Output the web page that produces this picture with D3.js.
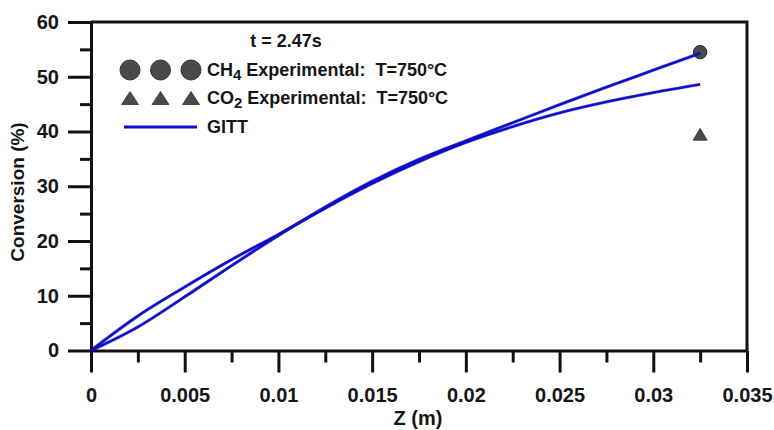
<!DOCTYPE html>
<html>
<head>
<meta charset="utf-8">
<script src="https://cdn.jsdelivr.net/npm/d3@7"></script>
<style>
  html, body { margin: 0; padding: 0; background: #fff; }
  svg { display: block; font-family: "Liberation Sans", Arial, sans-serif; }
</style>
</head>
<body>
<svg id="chart" width="774" height="430"></svg>
<script>
// ---- data ----
const zValues = [0, 0.0025, 0.005, 0.0075, 0.01, 0.0125, 0.015, 0.0175, 0.02, 0.0225, 0.025, 0.0275, 0.03, 0.0325];
const gittCH4 = [0, 4.3, 9.8, 15.5, 21.0, 26.2, 30.9, 34.9, 38.3, 41.6, 44.9, 48.1, 51.2, 54.3];
const gittCO2 = [0, 6.3, 11.6, 16.6, 21.2, 26.0, 30.5, 34.5, 38.0, 40.9, 43.4, 45.4, 47.1, 48.6];
const expCH4 = [{ z: 0.0325, v: 54.5 }];
const expCO2 = [{ z: 0.0325, v: 39.5 }];
const xTicks = [0, 0.005, 0.01, 0.015, 0.02, 0.025, 0.03, 0.035];
const xTickLabels = ["0", "0.005", "0.01", "0.015", "0.02", "0.025", "0.03", "0.035"];
const xMinorTicks = [0.0025, 0.0075, 0.0125, 0.0175, 0.0225, 0.0275, 0.0325];
const yTicks = [0, 10, 20, 30, 40, 50, 60];
const yTickLabels = ["0", "10", "20", "30", "40", "50", "60"];
const yMinorTicks = [5, 15, 25, 35, 45, 55];
const legendTitle = "t = 2.47s";
const legendCH4 = ["CH", "4", " Experimental:  T=750°C"];
const legendCO2 = ["CO", "2", " Experimental:  T=750°C"];
const legendGITT = "GITT";
const xTitle = "Z (m)";
const yTitle = "Conversion (%)";

// ---- layout ----
const svg = d3.select("#chart");
const L = 91, R = 747, T = 22, B = 350.5;
const x = d3.scaleLinear().domain([0, 0.035]).range([L, R]);
const y = d3.scaleLinear().domain([0, 60]).range([B, T]);
const ink = "#111";
const textInk = "#151515";
const lineBlue = "#0c0cd4";
const fontFam = "'Liberation Sans', Arial, sans-serif";

// minor ticks
svg.append("g").attr("transform", `translate(0,${B})`)
  .call(d3.axisBottom(x).tickValues(xMinorTicks).tickSize(12).tickSizeOuter(0).tickFormat(""))
  .call(g => g.select(".domain").remove())
  .call(g => g.selectAll("line").attr("stroke", ink).attr("stroke-width", 3));
svg.append("g").attr("transform", `translate(${L},0)`)
  .call(d3.axisLeft(y).tickValues(yMinorTicks).tickSize(11).tickSizeOuter(0).tickFormat(""))
  .call(g => g.select(".domain").remove())
  .call(g => g.selectAll("line").attr("stroke", ink).attr("stroke-width", 3));

// major x axis
svg.append("g").attr("transform", `translate(0,${B})`)
  .call(d3.axisBottom(x).tickValues(xTicks).tickSize(22).tickSizeOuter(0).tickPadding(15)
    .tickFormat((d, i) => xTickLabels[i]))
  .call(g => g.select(".domain").attr("stroke", ink).attr("stroke-width", 3))
  .call(g => g.selectAll("line").attr("stroke", ink).attr("stroke-width", 3))
  .call(g => g.selectAll("text").attr("fill", textInk).attr("font-size", 20).attr("font-weight", "bold")
    .attr("font-family", fontFam));

// major y axis
svg.append("g").attr("transform", `translate(${L},0)`)
  .call(d3.axisLeft(y).tickValues(yTicks).tickSize(23).tickSizeOuter(0).tickPadding(9)
    .tickFormat((d, i) => yTickLabels[i]))
  .call(g => g.select(".domain").attr("stroke", ink).attr("stroke-width", 3))
  .call(g => g.selectAll("line").attr("stroke", ink).attr("stroke-width", 3))
  .call(g => g.selectAll("text").attr("fill", textInk).attr("font-size", 20).attr("font-weight", "bold")
    .attr("font-family", fontFam));

// top and right frame
svg.append("path")
  .attr("d", `M${L},${T}H${R}V${B}`)
  .attr("fill", "none").attr("stroke", ink).attr("stroke-width", 3);

// axis titles
svg.append("text").attr("x", 418).attr("y", 425).attr("text-anchor", "middle")
  .attr("font-size", 20).attr("font-weight", "bold").attr("fill", textInk).text(xTitle);
svg.append("text").attr("transform", "translate(24,192) rotate(-90)").attr("text-anchor", "middle")
  .attr("font-size", 19).attr("font-weight", "bold").attr("fill", textInk).text(yTitle);

// experimental points (drawn under the curves, as in the reference)
const triPath = (cx, cy, w, h) => `M${cx - w / 2},${cy + h / 2}L${cx},${cy - h / 2}L${cx + w / 2},${cy + h / 2}Z`;
svg.selectAll("circle.exp").data(expCH4).join("circle").attr("class", "exp")
  .attr("cx", d => x(d.z)).attr("cy", d => y(d.v)).attr("r", 6.7)
  .attr("fill", "#4a4a4a").attr("stroke", "#222").attr("stroke-width", 1);
svg.selectAll("path.expco2").data(expCO2).join("path").attr("class", "expco2")
  .attr("d", d => triPath(x(d.z), y(d.v), 14, 12))
  .attr("fill", "#4a4a4a").attr("stroke", "#333").attr("stroke-width", 0.8);

// GITT curves
const line = d3.line().x((d, i) => x(zValues[i])).y(d => y(d)).curve(d3.curveMonotoneX);
[gittCO2, gittCH4].forEach(series => {
  svg.append("path").datum(series).attr("d", line)
    .attr("fill", "none").attr("stroke", "#0a0a50").attr("stroke-width", 3.4).attr("stroke-opacity", 0.45);
  svg.append("path").datum(series).attr("d", line)
    .attr("fill", "none").attr("stroke", lineBlue).attr("stroke-width", 2.4);
});

// legend
svg.append("text").attr("x", 286).attr("y", 47).attr("text-anchor", "middle")
  .attr("font-size", 18).attr("font-weight", "bold").attr("fill", textInk).text(legendTitle);

const legX = [130, 160.5, 191];
legX.forEach(cx => {
  svg.append("circle").attr("cx", cx).attr("cy", 70).attr("r", 10)
    .attr("fill", "#4a4a4a").attr("stroke", "#333").attr("stroke-width", 1);
  svg.append("path").attr("d", triPath(cx, 98, 17, 13))
    .attr("fill", "#4a4a4a").attr("stroke", "#333").attr("stroke-width", 0.8);
});
function legendText(parts, yy) {
  const t = svg.append("text").attr("x", 207).attr("y", yy)
    .attr("font-size", 18).attr("font-weight", "bold").attr("fill", textInk).attr("xml:space", "preserve");
  t.append("tspan").text(parts[0]);
  t.append("tspan").attr("font-size", 15).attr("dy", 4).text(parts[1]);
  t.append("tspan").attr("dy", -4).text(parts[2]);
}
legendText(legendCH4, 76);
legendText(legendCO2, 104);
svg.append("line").attr("x1", 124).attr("x2", 197).attr("y1", 127).attr("y2", 127)
  .attr("stroke", lineBlue).attr("stroke-width", 3);
svg.append("text").attr("x", 207).attr("y", 133)
  .attr("font-size", 18).attr("font-weight", "bold").attr("fill", textInk).text(legendGITT);
</script>
</body>
</html>
